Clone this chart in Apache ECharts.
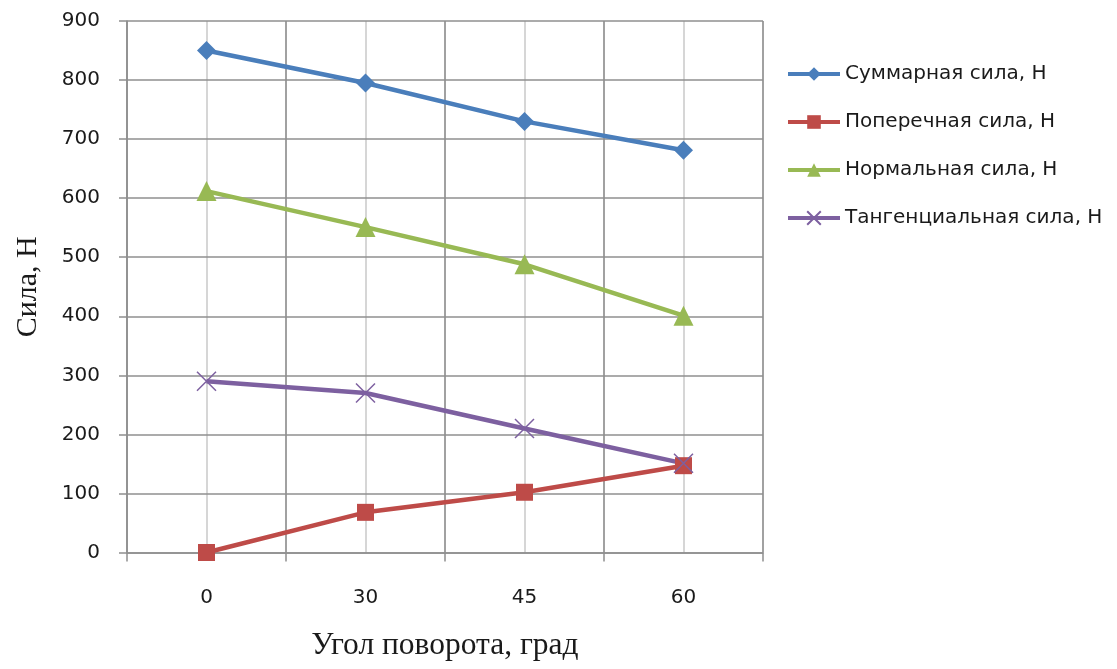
<!DOCTYPE html>
<html>
<head>
<meta charset="utf-8">
<script src="https://cdn.jsdelivr.net/npm/echarts@6/dist/echarts.min.js"></script>
<style>
  html, body { margin: 0; padding: 0; background: #fff; }
  #chart { width: 1117px; height: 669px; }
</style>
</head>
<body>
<div id="chart"></div>
<script>
// Угол поворота (категории оси X)
const angles = ['0', '30', '45', '60'];

// Силы, Н
const totalForce = [850, 795, 730, 681];
const transverseForce = [0, 68, 102, 147];
const normalForce = [612, 551, 488, 401];
const tangentialForce = [290, 270, 210, 151];

const seriesNames = [
  'Суммарная сила, Н',
  'Поперечная сила, Н',
  'Нормальная сила, Н',
  'Тангенциальная сила, Н'
];

const yMin = 0, yMax = 900, yStep = 100;

const colors = ['#4A7EBB', '#BE4B48', '#98B954', '#7D60A0'];
const gridDark = '#8f8f8f';
const gridLight = '#c8c8c8';
const sansFont = '"DejaVu Sans", "Open Sans", sans-serif';
const serifFont = '"Liberation Serif", "DejaVu Serif", serif';

const crossPath = 'path://M0,0L10,10M10,0L0,10';

const chart = echarts.init(document.getElementById('chart'), null, { renderer: 'canvas' });

function lineSeries(name, data, color, symbol, size, extra) {
  return Object.assign({
    name: name,
    type: 'line',
    data: data,
    symbol: symbol,
    symbolSize: size,
    showSymbol: true,
    lineStyle: { color: color, width: 4.5 },
    itemStyle: { color: color, borderColor: color, borderWidth: 0 },
    emphasis: { disabled: true },
    z: 3
  }, extra || {});
}

chart.setOption({
  animation: false,
  backgroundColor: '#ffffff',
  color: colors,
  grid: { left: 127, right: 354, top: 21, bottom: 116.5, containLabel: false },
  legend: {
    orient: 'vertical',
    left: 781,
    top: 57,
    itemWidth: 52,
    itemHeight: 17,
    itemGap: 24,
    lineStyle: { width: 4 },
    textStyle: { fontFamily: sansFont, fontSize: 20, color: '#1a1a1a', lineHeight: 24 },
    data: seriesNames
  },
  xAxis: [
    {
      type: 'category',
      data: angles,
      boundaryGap: true,
      z: 1,
      name: 'Угол поворота, град',
      nameLocation: 'middle',
      nameGap: 77,
      nameTextStyle: { fontFamily: serifFont, fontSize: 31.5, color: '#1a1a1a' },
      axisLine: { show: true, lineStyle: { color: gridDark, width: 1.5 } },
      axisTick: { show: true, length: 9, inside: false, lineStyle: { color: gridDark, width: 1.5 } },
      axisLabel: { fontFamily: sansFont, fontSize: 20, color: '#1a1a1a', margin: 35 },
      splitLine: { show: true, lineStyle: { color: gridDark, width: 1.5 } }
    },
    {
      // светлые линии через центры категорий
      type: 'value',
      position: 'top',
      min: 0,
      max: angles.length * 2,
      interval: 1,
      z: 0,
      axisLine: { show: false },
      axisTick: { show: false },
      axisLabel: { show: false },
      splitLine: { show: true, lineStyle: { color: gridLight, width: 1.5 } }
    }
  ],
  yAxis: {
    type: 'value',
    min: yMin,
    max: yMax,
    interval: yStep,
    z: 1,
    name: 'Сила, Н',
    nameLocation: 'middle',
    nameGap: 84,
    nameRotate: 90,
    nameTextStyle: { fontFamily: serifFont, fontSize: 30, color: '#1a1a1a' },
    axisLine: { show: true, lineStyle: { color: gridDark, width: 1.5 } },
    axisTick: { show: true, length: 8, lineStyle: { color: gridDark, width: 1.5 } },
    axisLabel: { fontFamily: sansFont, fontSize: 20, color: '#1a1a1a', margin: 27 },
    splitLine: { show: true, lineStyle: { color: gridDark, width: 1.5 } }
  },
  series: [
    lineSeries(seriesNames[0], totalForce, colors[0], 'diamond', 19),
    lineSeries(seriesNames[1], transverseForce, colors[1], 'rect', 17),
    lineSeries(seriesNames[2], normalForce, colors[2], 'triangle', 20),
    lineSeries(seriesNames[3], tangentialForce, colors[3], crossPath, 19, {
      itemStyle: { color: colors[3], borderColor: colors[3], borderWidth: 1.5 }
    })
  ]
});
</script>
</body>
</html>
